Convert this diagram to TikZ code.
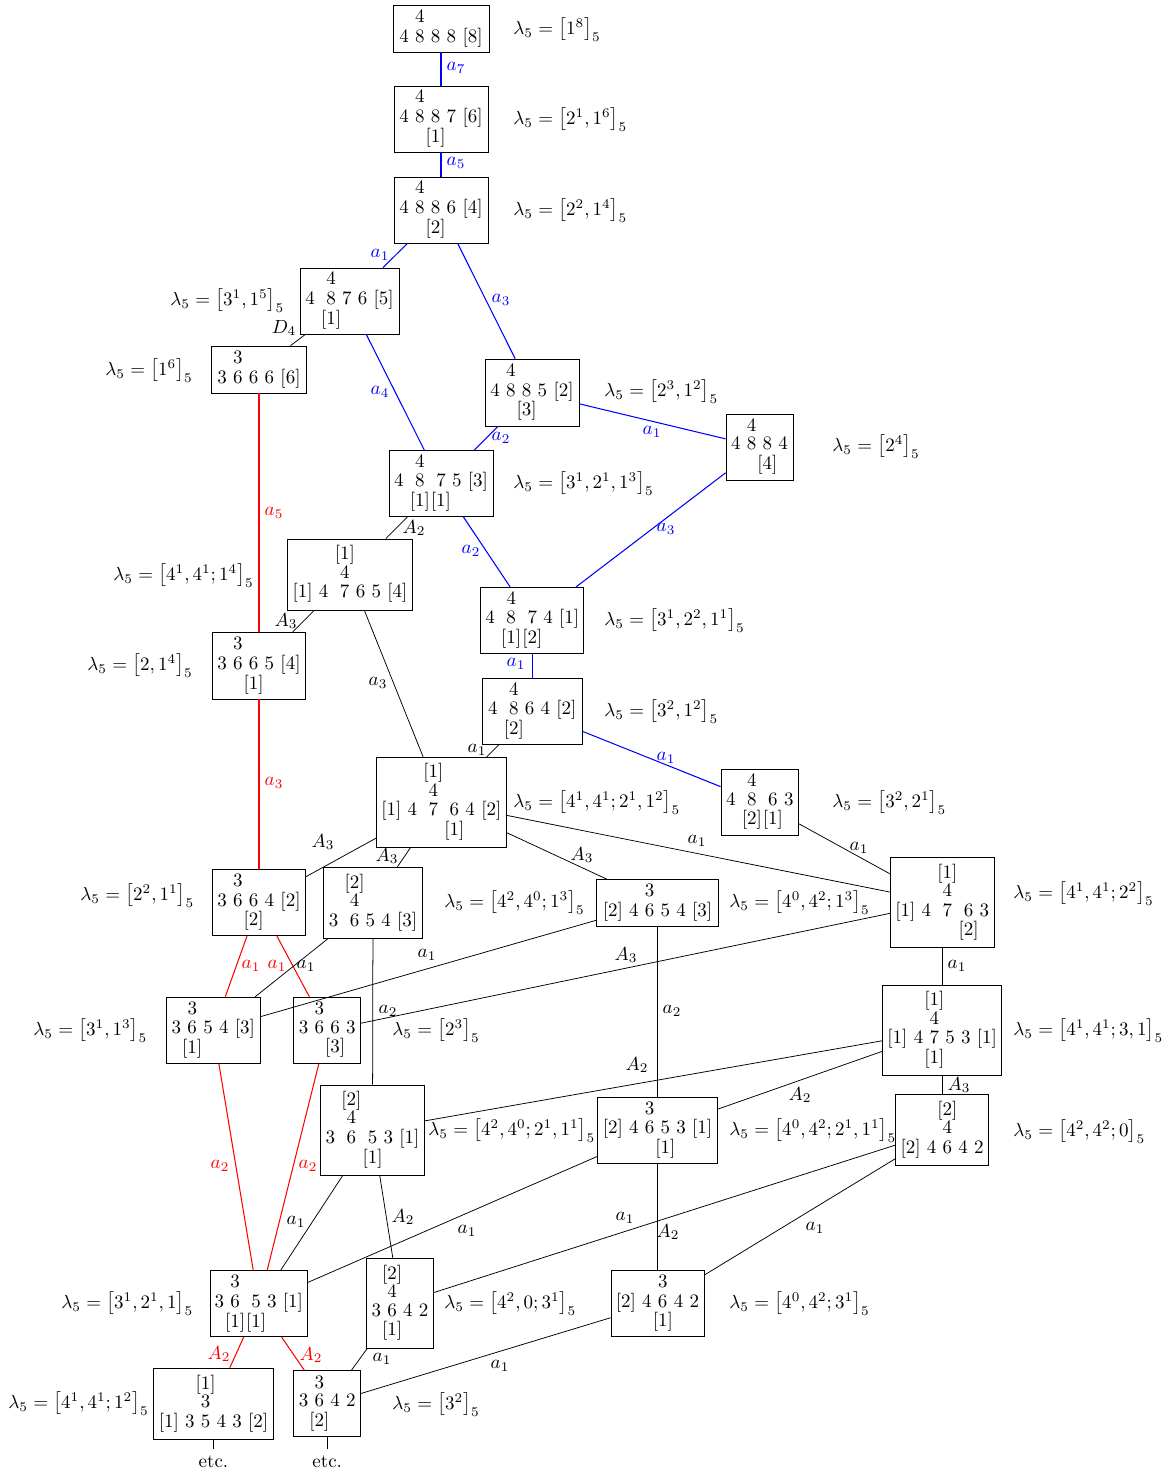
\documentclass[tikz,border=0pt]{standalone}
\usepackage{amsmath}
\usepackage{array}
\setlength{\arraycolsep}{1.65pt}
\renewcommand{\arraystretch}{0.8}
\newcolumntype{C}{@{\hspace{6.1pt}}c}
\newcommand{\kac}[2]{$\begin{array}{#1}#2\end{array}$}
\newcommand{\zb}[1]{\makebox[0pt]{$#1$}}
\newcommand{\lam}[1]{$\lambda_5=\left[#1\right]_5$}
\tikzset{
  bx/.style 2 args={draw, inner sep=0pt, minimum width=#1*0.5263pt, minimum height=#2*0.5263pt},
  lamlbl/.style={anchor=west, inner sep=0pt},
  el/.style={inner sep=0pt},
  bl/.style={blue, line width=0.55pt},
  rd/.style={red, line width=0.55pt},
  etcnode/.style={anchor=north, inner sep=3.3pt}
}
\begin{document}
\begin{tikzpicture}[x=0.5263pt,y=-0.5263pt]
\path[use as bounding box] (0,0) rectangle (1165,1473);

% boxes
\node[bx={96}{47}] (n1) at (441,28.5) {\kac{ccccc}{&4&&&\\4&8&8&8&[8]}};
\node[bx={94}{66}] (n2) at (441,119) {\kac{ccccc}{&4&&&\\4&8&8&7&[6]\\&&\zb{[1]}&&}};
\node[bx={94}{66}] (n3) at (441,210) {\kac{ccccc}{&4&&&\\4&8&8&6&[4]\\&&\zb{[2]}&&}};
\node[bx={99}{66}] (n4) at (349.5,301) {\kac{cCccc}{&4&&&\\4&8&7&6&[5]\\&\zb{[1]}&&&}};
\node[bx={95}{47}] (n5) at (259,369.5) {\kac{ccccc}{&3&&&\\3&6&6&6&[6]}};
\node[bx={94}{67}] (n6) at (532,392.5) {\kac{ccccc}{&4&&&\\4&8&8&5&[2]\\&&\zb{[3]}&&}};
\node[bx={67}{66}] (n7) at (759.5,447) {\kac{cccc}{&4&&\\4&8&8&4\\&&\zb{[4]}&}};
\node[bx={104}{66}] (n8) at (441,483.3) {\kac{cCCcc}{&4&&&\\4&8&7&5&[3]\\&\zb{[1]}&\zb{[1]}&&}};
\node[bx={125}{71}] (n9) at (350,574.5) {\kac{ccCccc}{&&\zb{[1]}&&&\\&&4&&&\\{}[1]&4&7&6&5&[4]}};
\node[bx={103}{66}] (n10) at (532.3,620.3) {\kac{cCCcc}{&4&&&\\4&8&7&4&[1]\\&\zb{[1]}&\zb{[2]}&&}};
\node[bx={93.5}{66.5}] (n11) at (259,665.7) {\kac{ccccc}{&3&&&\\3&6&6&5&[4]\\&&\zb{[1]}&&}};
\node[bx={99.7}{66}] (n12) at (532.3,711.3) {\kac{cCccc}{&4&&&\\4&8&6&4&[2]\\&\zb{[2]}&&&}};
\node[bx={129.3}{90}] (n13) at (441.3,802.3) {\kac{ccCCcc}{&&\zb{[1]}&&&\\&&4&&&\\{}[1]&4&7&6&4&[2]\\&&&\zb{[1]}&&}};
\node[bx={77.7}{66}] (n14) at (759.8,802.3) {\kac{cCCc}{&4&&\\4&8&6&3\\&\zb{[2]}&\zb{[1]}&}};
\node[bx={103.7}{90.4}] (n15) at (942.2,902.5) {\kac{ccCCc}{&&\zb{[1]}&&\\&&4&&\\{}[1]&4&7&6&3\\&&&\zb{[2]}&}};
\node[bx={93.4}{66.4}] (n16) at (259,902.5) {\kac{ccccc}{&3&&&\\3&6&6&4&[2]\\&&\zb{[2]}&&}};
\node[bx={99.4}{71.3}] (n17) at (373,902.7) {\kac{cCccc}{&\zb{[2]}&&&\\&4&&&\\3&6&5&4&[3]}};
\node[bx={121.3}{46.7}] (n18) at (657.5,902.7) {\kac{cccccc}{&&3&&&\\{}[2]&4&6&5&4&[3]}};
\node[bx={93.3}{66.3}] (n19) at (213.3,1030.2) {\kac{ccccc}{&3&&&\\3&6&5&4&[3]\\&\zb{[1]}&&&}};
\node[bx={67}{66.3}] (n20) at (327.2,1030.2) {\kac{cccc}{&3&&\\3&6&6&3\\&&\zb{[3]}&}};
\node[bx={103.7}{90}] (n21) at (372.5,1130) {\kac{cCCcc}{&\zb{[2]}&&&\\&4&&&\\3&6&5&3&[1]\\&&\zb{[1]}&&}};
\node[bx={119.7}{66}] (n22) at (657.5,1130.3) {\kac{cccccc}{&&3&&&\\{}[2]&4&6&5&3&[1]\\&&&\zb{[1]}&&}};
\node[bx={119.3}{90}] (n23) at (942.2,1030.3) {\kac{cccccc}{&&\zb{[1]}&&&\\&&4&&&\\{}[1]&4&7&5&3&[1]\\&&\zb{[1]}&&&}};
\node[bx={93.3}{71}] (n24) at (942.2,1130.2) {\kac{ccccc}{&&\zb{[2]}&&\\&&4&&\\{}[2]&4&6&4&2}};
\node[bx={97}{66}] (n25) at (258.8,1303.7) {\kac{ccCcc}{&3&&&\\3&6&5&3&[1]\\&\zb{[1]}&\zb{[1]}&&}};
\node[bx={66.7}{90}] (n26) at (400,1303.3) {\kac{cccc}{&\zb{[2]}&&\\&4&&\\3&6&4&2\\&\zb{[1]}&&}};
\node[bx={93}{66.3}] (n27) at (657.5,1303.5) {\kac{ccccc}{&&3&&\\{}[2]&4&6&4&2\\&&\zb{[1]}&&}};
\node[bx={119.7}{71.3}] (n28) at (213.5,1403.7) {\kac{cccccc}{&&\zb{[1]}&&&\\&&3&&&\\{}[1]&3&5&4&3&[2]}};
\node[bx={67}{66}] (n29) at (327.2,1403.7) {\kac{cccc}{&3&&\\3&6&4&2\\&\zb{[2]}&&}};
\node[etcnode] (etc1) at (213.5,1449) {etc.};
\node[etcnode] (etc2) at (327.2,1449) {etc.};

% lambda labels
\node[lamlbl] (l1) at (513,30) {\lam{1^8}};
\node[lamlbl] (l2) at (513,120) {\lam{2^1,1^6}};
\node[lamlbl] (l3) at (513,211) {\lam{2^2,1^4}};
\node[lamlbl] (l4) at (170,301) {\lam{3^1,1^5}};
\node[lamlbl] (l5) at (105,371) {\lam{1^6}};
\node[lamlbl] (l6) at (604,392) {\lam{2^3,1^2}};
\node[lamlbl] (l7) at (832,447) {\lam{2^4}};
\node[lamlbl] (l8) at (513,484) {\lam{3^1,2^1,1^3}};
\node[lamlbl] (l9) at (113,576) {\lam{4^1,4^1;1^4}};
\node[lamlbl] (l10) at (604,621) {\lam{3^1,2^2,1^1}};
\node[lamlbl] (l11) at (87,666) {\lam{2,1^4}};
\node[lamlbl] (l12) at (604,712) {\lam{3^2,1^2}};
\node[lamlbl] (l13) at (513,803) {\lam{4^1,4^1;2^1,1^2}};
\node[lamlbl] (l14) at (832,803) {\lam{3^2,2^1}};
\node[lamlbl] (l15) at (1013,894) {\lam{4^1,4^1;2^2}};
\node[lamlbl] (l16) at (80,896) {\lam{2^2,1^1}};
\node[lamlbl] (l17) at (444,903) {\lam{4^2,4^0;1^3}};
\node[lamlbl] (l18) at (729,903) {\lam{4^0,4^2;1^3}};
\node[lamlbl] (l19) at (33,1031) {\lam{3^1,1^3}};
\node[lamlbl] (l20) at (392,1031) {\lam{2^3}};
\node[lamlbl] (l21) at (1013,1031) {\lam{4^1,4^1;3,1}};
\node[lamlbl] (l22) at (428,1131) {\lam{4^2,4^0;2^1,1^1}};
\node[lamlbl] (l23) at (729,1131) {\lam{4^0,4^2;2^1,1^1}};
\node[lamlbl] (l24) at (1013,1132) {\lam{4^2,4^2;0}};
\node[lamlbl] (l25) at (61,1304) {\lam{3^1,2^1,1}};
\node[lamlbl] (l26) at (444,1304) {\lam{4^2,0;3^1}};
\node[lamlbl] (l27) at (729,1304) {\lam{4^0,4^2;3^1}};
\node[lamlbl] (l28) at (8,1404) {\lam{4^1,4^1;1^2}};
\node[lamlbl] (l29) at (392,1405) {\lam{3^2}};

% connectors
\draw[bl] (n1) -- (n2) node[el] at (456,68) {$a_7$};
\draw[bl] (n2) -- (n3) node[el] at (456,163) {$a_5$};
\draw[bl] (n3) -- (n4) node[el] at (380,255) {$a_1$};
\draw (n4) -- (n5) node[el] at (284,328) {$D_4$};
\draw[bl] (n3) -- (n6) node[el] at (501,300) {$a_3$};
\draw[bl] (n6) -- (n7) node[el] at (652,432) {$a_1$};
\draw[bl] (n4) -- (n8) node[el] at (380,392) {$a_4$};
\draw[bl] (n6) -- (n8) node[el] at (501,438) {$a_2$};
\draw (n8) -- (n9) node[el] at (414,528) {$A_2$};
\draw[bl] (n8) -- (n10) node[el] at (471,551) {$a_2$};
\draw[bl] (n7) -- (n10) node[el] at (666,529) {$a_3$};
\draw[rd] (n5) -- (n11) node[el] at (274,513) {$a_5$};
\draw (n9) -- (n11) node[el] at (286,621) {$A_3$};
\draw[bl] (n10) -- (n12) node[el] at (516,664) {$a_1$};
\draw (n12) -- (n13) node[el] at (477,750) {$a_1$};
\draw (n9) -- (n13) node[el] at (378,683) {$a_3$};
\draw[bl] (n12) -- (n14) node[el] at (666,758) {$a_1$};
\draw (n14) -- (n15) node[el] at (859,848) {$a_1$};
\draw (n13) -- (n15) node[el] at (697,841) {$a_1$};
\draw[rd] (n11) -- (n16) node[el] at (274,783) {$a_3$};
\draw (n13) -- (n16) node[el] at (323,842) {$A_3$};
\draw (n13) -- (n17) node[el] at (387,856) {$A_3$};
\draw (n13) -- (n18) node[el] at (582,855) {$A_3$};
\draw[rd] (n16) -- (n19) node[el] at (251,966) {$a_1$};
\draw[rd] (n16) -- (n20) node[el] at (277,966) {$a_1$};
\draw (n17) -- (n19) node[el] at (306,966) {$a_1$};
\draw (n18) -- (n19) node[el] at (427,955) {$a_1$};
\draw (n15) -- (n20) node[el] at (626,955) {$A_3$};
\draw (n17) -- (n21) node[el] at (388,1011) {$a_2$};
\draw (n18) -- (n22) node[el] at (672,1011) {$a_2$};
\draw (n15) -- (n23) node[el] at (957,966) {$a_1$};
\draw (n23) -- (n24) node[el] at (959,1085) {$A_3$};
\draw (n23) -- (n21) node[el] at (637,1065) {$A_2$};
\draw (n23) -- (n22) node[el] at (800,1095) {$A_2$};
\draw[rd] (n19) -- (n25) node[el] at (220,1166) {$a_2$};
\draw[rd] (n20) -- (n25) node[el] at (308,1166) {$a_2$};
\draw (n21) -- (n25) node[el] at (296,1222) {$a_1$};
\draw (n21) -- (n26) node[el] at (403,1217) {$A_2$};
\draw (n22) -- (n25) node[el] at (467,1231) {$a_1$};
\draw (n24) -- (n26) node[el] at (625,1218) {$a_1$};
\draw (n22) -- (n27) node[el] at (668,1232) {$A_2$};
\draw (n24) -- (n27) node[el] at (815,1228) {$a_1$};
\draw[rd] (n25) -- (n28) node[el] at (219,1354) {$A_2$};
\draw[rd] (n25) -- (n29) node[el] at (311,1355) {$A_2$};
\draw (n26) -- (n29) node[el] at (382,1359) {$a_1$};
\draw (n27) -- (n29) node[el] at (500,1366) {$a_1$};
\draw (n28) -- (etc1);
\draw (n29) -- (etc2);
\end{tikzpicture}
\end{document}
